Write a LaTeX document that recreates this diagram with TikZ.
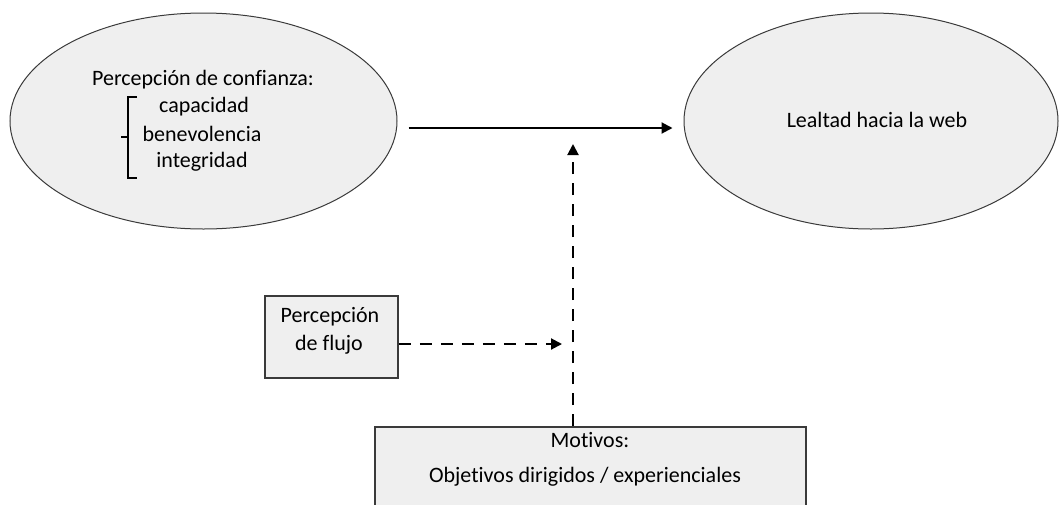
\documentclass[tikz,border=0pt]{standalone}
\usepackage{fontspec}
\setmainfont{Carlito}[Ligatures={NoCommon}]
\usetikzlibrary{shapes.geometric,arrows.meta}
\definecolor{shade}{HTML}{EFEFEF}
\definecolor{edge}{HTML}{3A3A3A}
\begin{document}
\begin{tikzpicture}[x=1pt,y=-1pt,
  every node/.style={font=\fontsize{22}{27}\selectfont, inner sep=0pt},
  oval/.style={ellipse, draw=edge, line width=1pt, fill=shade},
  panel/.style={rectangle, draw=edge, line width=1.6pt, fill=shade},
  solidarrow/.style={line width=2pt, -{Triangle[length=11pt,width=11pt]}},
  dasharrow/.style={line width=2pt, dash pattern=on 12pt off 9pt, -{Triangle[length=11pt,width=11pt]}}]
\useasboundingbox (0,0) rectangle (1059,504);
\begin{scope}
\clip (0,0) rectangle (1059,504);
% trust and loyalty constructs
\node[oval, minimum width=387pt, minimum height=216pt] (conf) at (203.5,121) {};
\node[oval, minimum width=374pt, minimum height=216pt] (leal) at (871,121) {};
% flow and motives
\node[panel, minimum width=133pt, minimum height=82pt] (flujo) at (331.5,337) {};
\node[panel, minimum width=431pt, minimum height=100pt] (motivos) at (590.5,477) {};
\end{scope}

\node (titulo) at (203,80) {Percepción de confianza:};
\node (cap) at (204,107) {capacidad};
\node (ben) at (202,134) {benevolencia};
\node (integ) at (202,162) {integridad};
\draw[line width=1.8pt, line cap=butt] (137,97) -- (128,97) -- (128,178) -- (137,178);
\draw[line width=1.8pt] (128,137) -- (120.5,137);

\node (lealtxt) at (877,120) {Lealtad hacia la web};

\node (flujo1) at (330,317) {Percepción};
\node (flujo2) at (329,345) {de flujo};

\node (mot1) at (590,440) {Motivos:};
\node (mot2) at (585,477) {Objetivos dirigidos / experienciales};

% connectors
\coordinate (mtip) at (573,144);
\coordinate (ftip) at (562,344);
\draw[solidarrow, shorten <=11pt, shorten >=11pt] ([yshift=-7pt]conf.east) -- ([yshift=-7pt]leal.west);
\draw[dasharrow] ([xshift=-17.5pt]motivos.north) -- (mtip);
\draw[dasharrow] (flujo.east |- ftip) -- (ftip);
\end{tikzpicture}
\end{document}
